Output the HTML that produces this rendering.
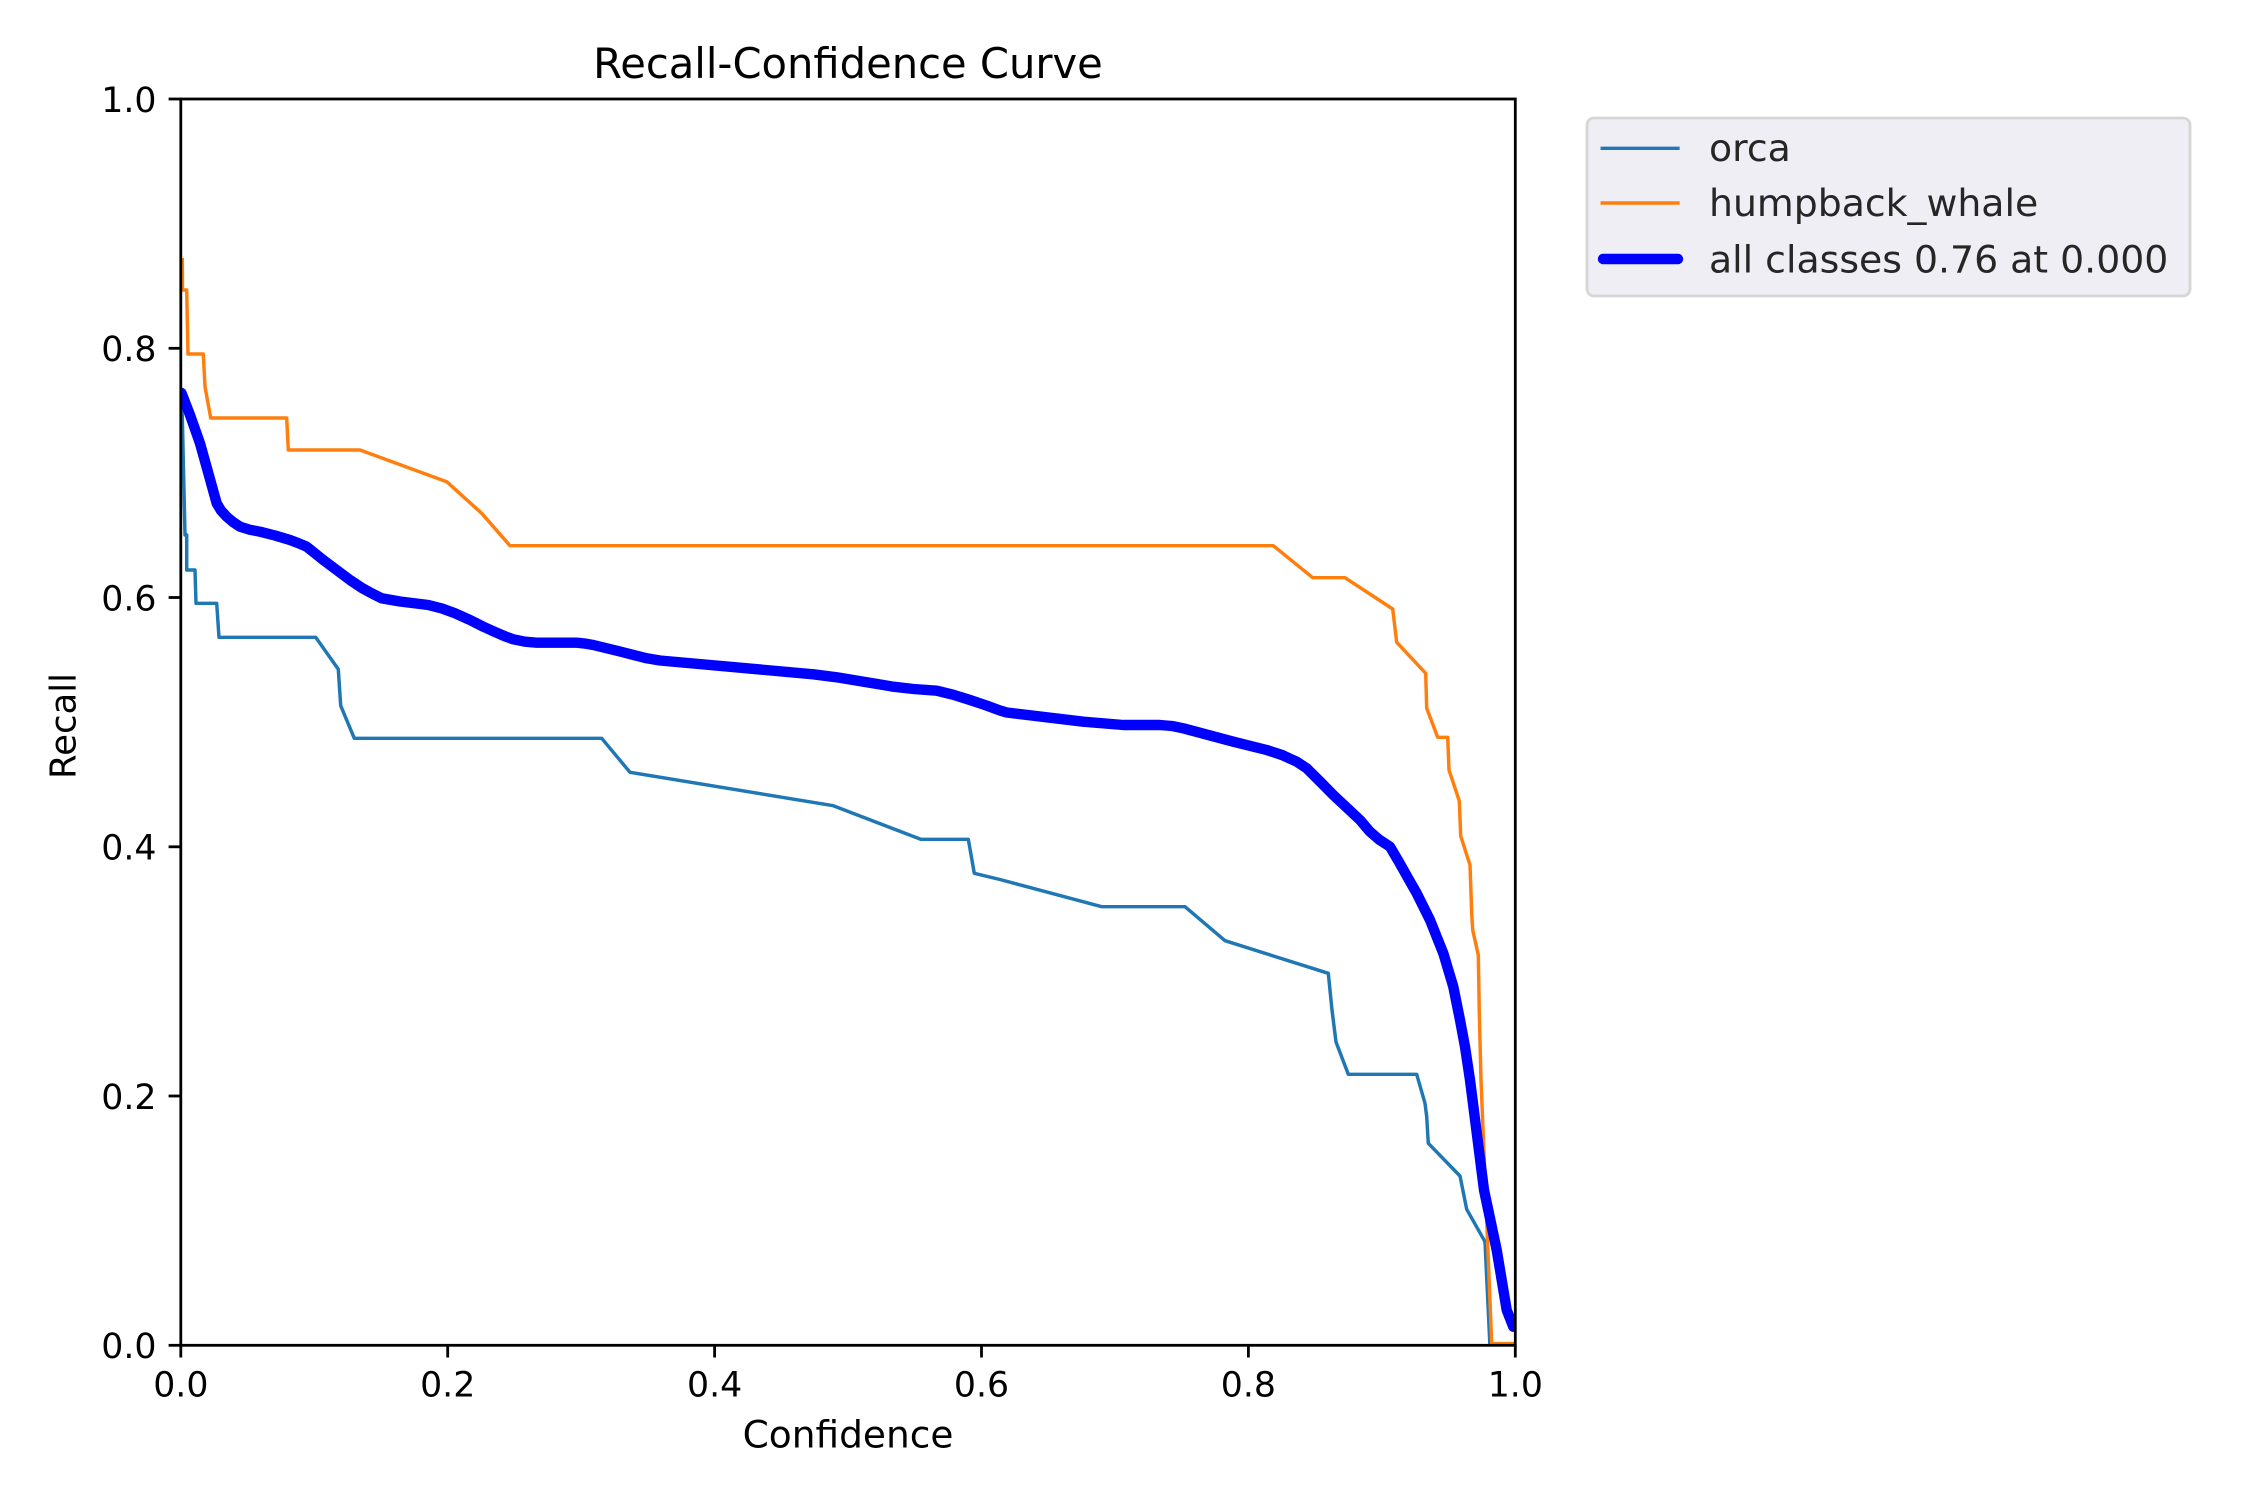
<!DOCTYPE html>
<html>
<head>
<meta charset="utf-8">
<style>
  html, body { margin: 0; padding: 0; background: #ffffff; }
  svg { display: block; }
  text { font-family: "DejaVu Sans", "Liberation Sans", sans-serif; }
</style>
</head>
<body>
<svg width="2250" height="1500" viewBox="0 0 2250 1500" xmlns="http://www.w3.org/2000/svg">
  <rect x="0" y="0" width="2250" height="1500" fill="#ffffff"/>
  <defs>
    <clipPath id="ax">
      <rect x="180.8" y="99" width="1334.5" height="1246.3"/>
    </clipPath>
  </defs>

  <!-- Title -->
  <text x="848" y="78" font-size="41.67" text-anchor="middle" fill="#000">Recall-Confidence Curve</text>

  <g clip-path="url(#ax)" fill="none" stroke-linejoin="round">
    <!-- orca -->
    <path stroke="#1f77b4" stroke-width="3.47" d="M181,390 L182.3,416.7 L185,535 L186.7,535 L186.7,570 L195,570 L196,603.3 L216.7,603.3 L219,637.3 L315.7,637.3 L338.3,669.3 L340.7,705.7 L354.3,738.3 L601.7,738.3 L630,772.3 L833.3,805.7 L920.7,839.3 L968.3,839.3 L974.3,873.3 L1000,879.5 L1101.7,906.7 L1185,906.7 L1225,940.7 L1328.3,973.3 L1332,1010 L1336,1042 L1348.3,1074.3 L1416.7,1074.3 L1425,1103.3 L1426.7,1116.7 L1428.3,1143.3 L1460,1176 L1466.7,1209.3 L1485,1241.7 L1490,1347"/>
    <!-- humpback_whale -->
    <path stroke="#ff7f0e" stroke-width="3.47" d="M182.3,258 L182.5,290 L186.7,290 L188,354 L203.3,354 L205,386.7 L210.7,418 L286.7,418 L288.3,450 L360,450 L446.7,481.7 L481.7,513.3 L510,545.7 L1273.3,545.7 L1312.7,577.7 L1345,577.7 L1392.7,609 L1396.7,642.3 L1425.7,673.3 L1426.7,708.3 L1437.7,737.3 L1447.7,737.3 L1449,770 L1459.3,801 L1460.7,836 L1470,865 L1471.7,913.3 L1472.7,930 L1478.3,955 L1479.3,1013 L1481,1080 L1491.7,1343.6 L1516,1343.6"/>
    <!-- all classes -->
    <path stroke="#0000ff" stroke-width="10.4" stroke-linecap="round" d="M181.5,393 L190,415 L200,443.3 L208,472 L216.7,503.3 L221,510.5 L226.7,516.7 L233,522 L240,526.7 L250,529.8 L260,531.7 L275,535.5 L290,540 L298,543 L306.7,546.7 L323.3,560 L350,580 L362,588 L371.7,593.3 L381.7,598.3 L400,601.5 L428.3,605 L442,608.5 L455,613.3 L470,620 L483.3,626.7 L495,632 L505,636.3 L513.3,639.3 L525,641.7 L536.7,642.7 L576.7,642.7 L586,643.7 L593.3,645 L620,651.5 L646.7,658.3 L660,660.5 L813.3,674.3 L836.7,677.3 L893.3,686.7 L913.3,689 L936.7,690.7 L953,694.7 L970,700 L985,705 L1000,710.5 L1006.7,712.5 L1083.3,721.7 L1123.3,725 L1160,725 L1172,726 L1183.3,728.3 L1233.3,741.7 L1266.7,750 L1282,755 L1296.7,761.7 L1306.7,768.3 L1320,781.5 L1333.3,795 L1360,820 L1370,831.7 L1379,839.5 L1390,846.7 L1399,862 L1408,878 L1416.7,893.3 L1430,920 L1443.3,953.3 L1453.3,986.7 L1460,1020 L1465,1046.7 L1470,1080 L1477,1135 L1484,1190 L1496.7,1250 L1506.7,1310 L1513.3,1326.7"/>
  </g>

  <!-- Spines -->
  <rect x="180.8" y="99" width="1334.5" height="1246.3" fill="none" stroke="#000" stroke-width="2.8"/>

  <!-- Y ticks -->
  <g stroke="#000" stroke-width="2.8">
    <line x1="168.6" y1="1345.3" x2="180.8" y2="1345.3"/>
    <line x1="168.6" y1="1096.0" x2="180.8" y2="1096.0"/>
    <line x1="168.6" y1="846.8" x2="180.8" y2="846.8"/>
    <line x1="168.6" y1="597.5" x2="180.8" y2="597.5"/>
    <line x1="168.6" y1="348.3" x2="180.8" y2="348.3"/>
    <line x1="168.6" y1="99.0" x2="180.8" y2="99.0"/>
  </g>
  <g font-size="34.72" fill="#000" text-anchor="end">
    <text x="156.5" y="1358.2">0.0</text>
    <text x="156.5" y="1108.9">0.2</text>
    <text x="156.5" y="859.7">0.4</text>
    <text x="156.5" y="610.4">0.6</text>
    <text x="156.5" y="361.2">0.8</text>
    <text x="156.5" y="111.9">1.0</text>
  </g>

  <!-- X ticks -->
  <g stroke="#000" stroke-width="2.8">
    <line x1="180.8" y1="1345.3" x2="180.8" y2="1357.5"/>
    <line x1="447.7" y1="1345.3" x2="447.7" y2="1357.5"/>
    <line x1="714.6" y1="1345.3" x2="714.6" y2="1357.5"/>
    <line x1="981.5" y1="1345.3" x2="981.5" y2="1357.5"/>
    <line x1="1248.4" y1="1345.3" x2="1248.4" y2="1357.5"/>
    <line x1="1515.3" y1="1345.3" x2="1515.3" y2="1357.5"/>
  </g>
  <g font-size="34.72" fill="#000" text-anchor="middle">
    <text x="180.8" y="1396.7">0.0</text>
    <text x="447.7" y="1396.7">0.2</text>
    <text x="714.6" y="1396.7">0.4</text>
    <text x="981.5" y="1396.7">0.6</text>
    <text x="1248.4" y="1396.7">0.8</text>
    <text x="1515.3" y="1396.7">1.0</text>
  </g>

  <!-- Axis labels -->
  <text x="848" y="1447.5" font-size="37.5" text-anchor="middle" fill="#000">Confidence</text>
  <text x="0" y="0" font-size="35.5" text-anchor="middle" fill="#000" transform="translate(75.5,726) rotate(-90)">Recall</text>

  <!-- Legend -->
  <rect x="1587" y="118" width="603" height="178" rx="7" ry="7" fill="#eeeef4" stroke="#d6d6d6" stroke-width="2.8"/>
  <line x1="1602.3" y1="148.3" x2="1677.9" y2="148.3" stroke="#1f77b4" stroke-width="3.47" stroke-linecap="square"/>
  <line x1="1602.3" y1="203" x2="1677.9" y2="203" stroke="#ff7f0e" stroke-width="3.47" stroke-linecap="square"/>
  <line x1="1603" y1="259" x2="1678" y2="259" stroke="#0000ff" stroke-width="10.4" stroke-linecap="round"/>
  <g font-size="37.8" fill="#262626">
    <text x="1709" y="161">orca</text>
    <text x="1709" y="216">humpback_whale</text>
    <text x="1709" y="272.5">all classes 0.76 at 0.000</text>
  </g>
</svg>
</body>
</html>
